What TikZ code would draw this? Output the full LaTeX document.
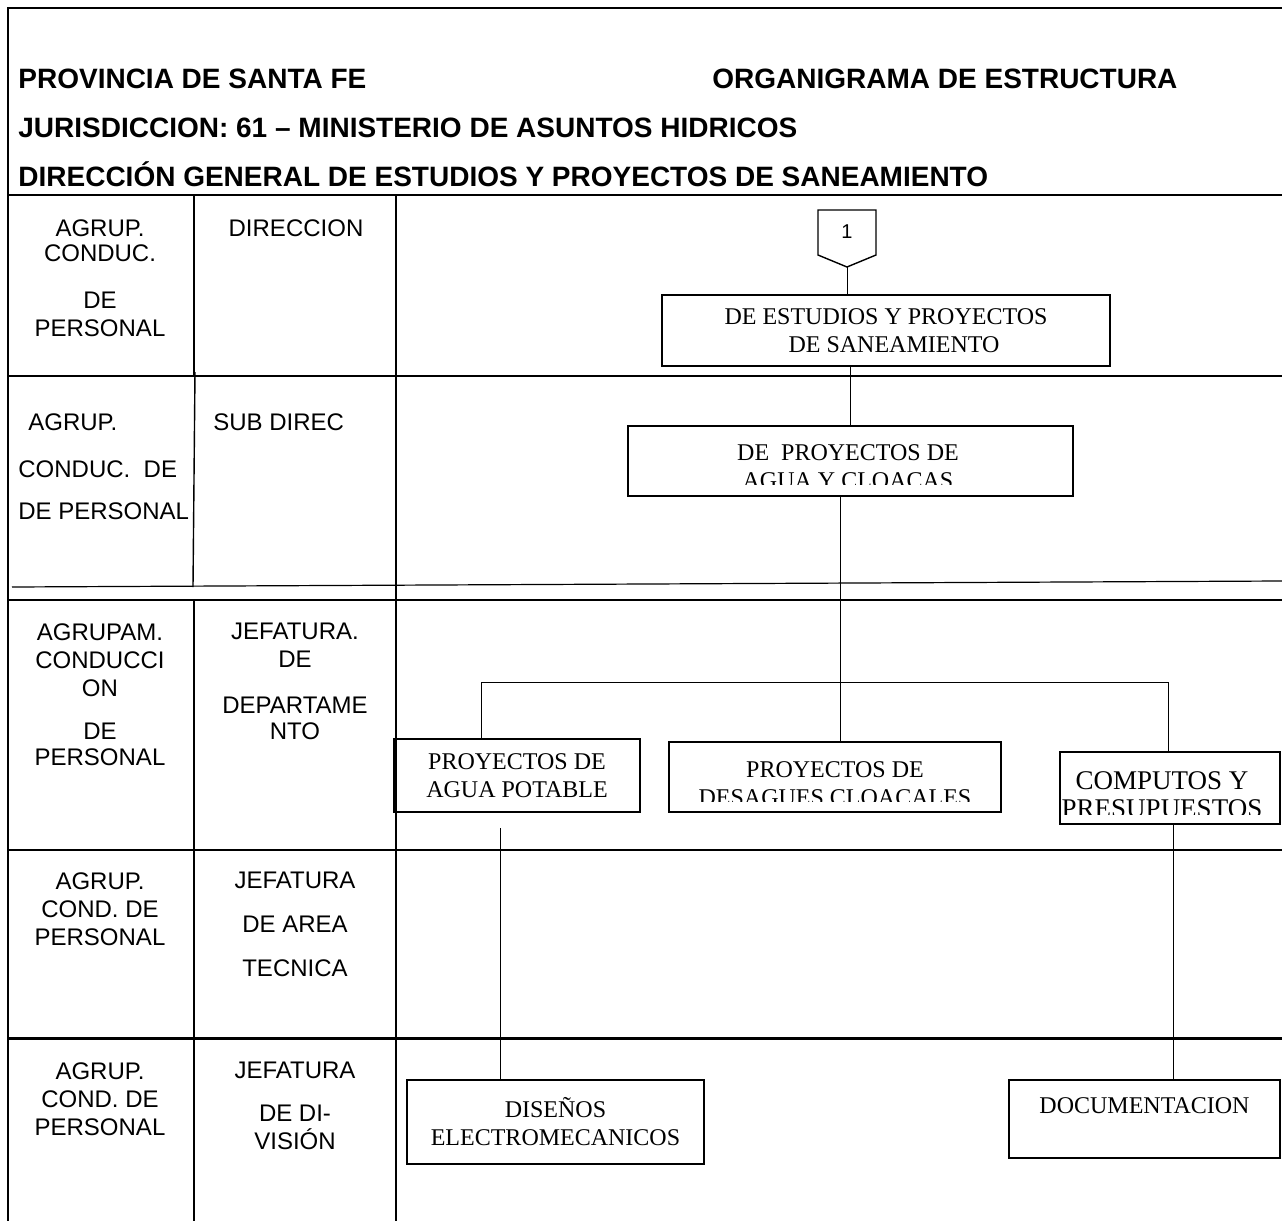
\documentclass[tikz,border=0pt]{standalone}
\usepackage{fontspec}
\setmainfont{Liberation Serif}
\newfontfamily\arialfont{Liberation Sans}
\tikzset{
  rule/.style={line width=1.1pt},
  link/.style={line width=0.5pt},
  head/.style={font=\arialfont\bfseries\fontsize{14}{16}\selectfont, anchor=base west, inner sep=0pt},
  cell/.style={font=\arialfont\fontsize{12}{14}\selectfont, align=center, anchor=north, inner sep=0pt},
  unit/.style={draw, line width=1pt, font=\fontsize{12}{14}\selectfont, align=center, inner sep=0pt},
  unittext/.style={font=\fontsize{12}{14}\selectfont, align=center, anchor=north, inner sep=0pt}
}
\begin{document}
\begin{tikzpicture}[x=0.5pt,y=-0.5pt]
\useasboundingbox (0,0) rectangle (1282,1221);
\draw[rule] (1282,8) -- (8,8) -- (8,1221);
\draw[rule] (8,195) -- (1282,195);
\draw[rule] (8,376) -- (1282,376);
\draw[line width=0.6pt] (12,587) -- (1282,581);
\draw[rule] (8,600) -- (1282,600);
\draw[rule] (8,850) -- (1282,850);
\draw[line width=1.5pt] (8,1038) -- (1282,1038);
\draw[rule] (194,195) -- (194,376);
\draw[line width=0.7pt] (195,372) -- (193,587);
\draw[rule] (194,600) -- (194,1221);
\draw[rule] (396,195) -- (396,1221);

\node[head] (prov) at (18,88) {PROVINCIA DE SANTA FE};
\node[head] (organ) at (712,88) {ORGANIGRAMA DE ESTRUCTURA};
\node[head] (juris) at (18,137) {JURISDICCION: 61 – MINISTERIO DE ASUNTOS HIDRICOS};
\node[head] (dirgen) at (18,186) {DIRECCIÓN GENERAL DE ESTUDIOS Y PROYECTOS DE SANEAMIENTO};

\node[cell] (agrup1) at (100,219) {AGRUP.\\[-1.5pt]CONDUC.\\[9.5pt]DE\\PERSONAL};
\node[cell] (nivel1) at (296,219) {DIRECCION};
\node[cell, anchor=north west, align=left] (agrup2) at (18,413) {\hspace*{5pt}AGRUP.\\[9.5pt]CONDUC.\ \ DE\\[7pt]DE PERSONAL};
\node[cell, anchor=north west] (nivel2) at (213,413) {SUB DIREC};
\node[cell] (agrup3) at (100,623) {AGRUPAM.\\CONDUCCI\\ON\\[7.5pt]DE\\[-1pt]PERSONAL};
\node[cell] (nivel3) at (295,623) {JEFATURA.\\DE\\[9pt]DEPARTAME\\[-1pt]NTO};
\node[cell] (agrup4) at (100,872) {AGRUP.\\COND. DE\\PERSONAL};
\node[cell] (nivel4) at (295,872) {JEFATURA\\[8pt]DE AREA\\[8pt]TECNICA};
\node[cell] (agrup5) at (100,1062) {AGRUP.\\COND. DE\\PERSONAL};
\node[cell] (nivel5) at (295,1062) {JEFATURA\\[7.5pt]DE DI-\\VISIÓN};

\draw[line width=0.7pt] (818,210) -- (876,210) -- (876,255) -- (847,267) -- (818,255) -- cycle;
\coordinate (tip) at (847,267);
\node[font=\arialfont\fontsize{10}{12}\selectfont, inner sep=0pt] (one) at (847,232) {1};

\node[unit, minimum width=224pt, minimum height=35.5pt] (estudios) at (886,330.5) {DE ESTUDIOS Y PROYECTOS\\\hspace*{8pt}DE SANEAMIENTO};

\begin{scope}
\clip (629,427) rectangle (1072,484);
\node[unittext] (cloacastext) at (848,444) {DE \ PROYECTOS DE\\AGUA Y CLOACAS};
\end{scope}
\node[unit, minimum width=222.5pt, minimum height=35pt] (cloacas) at (850.5,461) {};

\node[unit, minimum width=123pt, minimum height=36.5pt] (aguapot) at (517,775.5) {PROYECTOS DE\\AGUA POTABLE};

\begin{scope}
\clip (670,743) rectangle (1000,801);
\node[unittext] (desaguestext) at (835,761) {PROYECTOS DE\\DESAGUES CLOACALES};
\end{scope}
\node[unit, minimum width=166pt, minimum height=35pt] (desagues) at (835,777) {};

\begin{scope}
\clip (1061,753) rectangle (1279,814);
\node[unittext, font=\fontsize{13.5}{14}\selectfont] (computostext) at (1162,771) {COMPUTOS Y\\PRESUPUESTOS};
\end{scope}
\node[unit, minimum width=110pt, minimum height=36pt] (computos) at (1170,788) {};

\node[unit, minimum width=148.5pt, minimum height=42pt] (disenos) at (555.5,1122) {DISEÑOS\\ELECTROMECANICOS};
\node[unit, minimum width=135.5pt, minimum height=39pt, text depth=13pt] (docu) at (1144.5,1119) {DOCUMENTACION};

\coordinate (stem) at (850,0);
\coordinate (trunk) at (840,682);
\coordinate (busL) at (481,682);
\coordinate (busR) at (1168,682);
\coordinate (dropA) at (500,828);
\coordinate (dropB) at (1173,0);
\draw[link] (tip) -- (tip |- estudios.north);
\draw[link] (estudios.south -| stem) -- (cloacas.north -| stem);
\draw[link] (cloacas.south -| trunk) -- (desagues.north -| trunk);
\draw[link] (busL |- aguapot.north) -- (busL) -- (busR) -- (busR |- computos.north);
\draw[link] (dropA) -- (dropA |- disenos.north);
\draw[link] (computos.south -| dropB) -- (dropB |- docu.north);
\end{tikzpicture}
\end{document}
